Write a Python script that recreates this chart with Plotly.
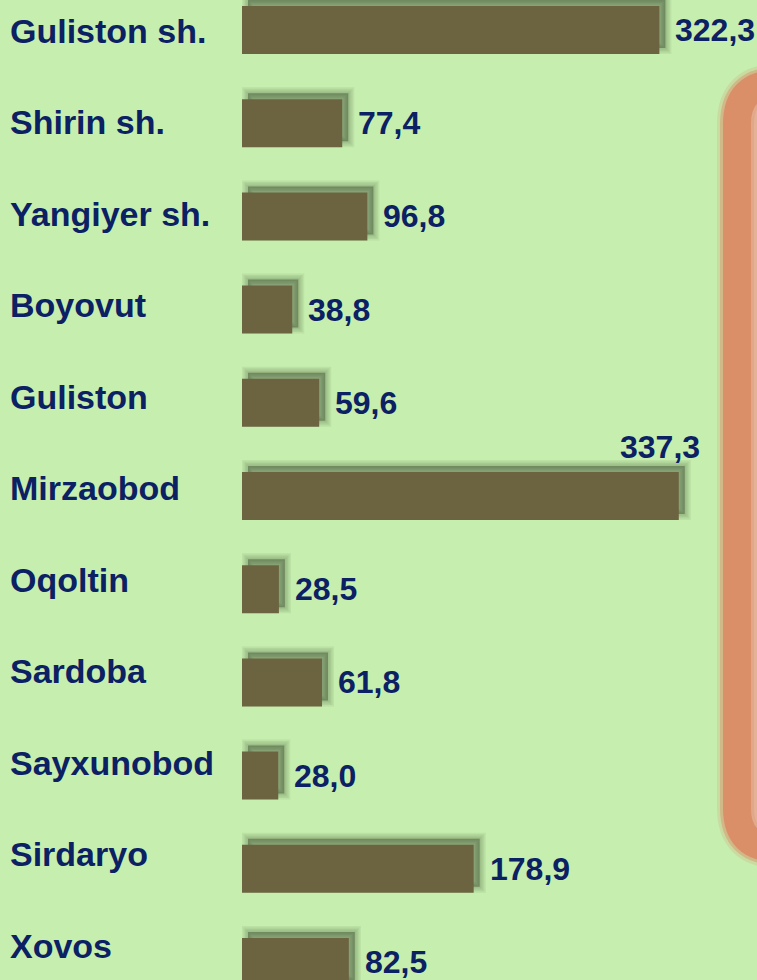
import plotly.graph_objects as go

categories = ["Guliston sh.", "Shirin sh.", "Yangiyer sh.", "Boyovut", "Guliston",
              "Mirzaobod", "Oqoltin", "Sardoba", "Sayxunobod", "Sirdaryo", "Xovos"]
values = [322.3, 77.4, 96.8, 38.8, 59.6, 337.3, 28.5, 61.8, 28.0, 178.9, 82.5]
value_labels = [f"{v:.1f}".replace(".", ",") for v in values]

W, H = 757, 980
BG = "#c6eeaf"
BAR = "#6c6440"
TXT = "#0b2163"
FONT = "Arial, Liberation Sans, sans-serif"

# axis geometry (pixel scale)
PX_PER_UNIT_X = 1.295
X0_PX = 242
x_range = [-X0_PX / PX_PER_UNIT_X, (W - X0_PX) / PX_PER_UNIT_X]
PX_PER_CAT = 93.2
FIRST_PX = 30
y_top = -FIRST_PX / PX_PER_CAT
y_range = [y_top + H / PX_PER_CAT, y_top]

# shadow shift
SH_DX, SH_DY = 6, 6
xs_range = [x_range[0] - SH_DX / PX_PER_UNIT_X, x_range[1] - SH_DX / PX_PER_UNIT_X]
ys_range = [y_range[0] + SH_DY / PX_PER_CAT, y_range[1] + SH_DY / PX_PER_CAT]

# label axis
LBL_SPACING = 91.5
LBL_FIRST = 30.8
l_top = -LBL_FIRST / LBL_SPACING
l_range = [l_top + H / LBL_SPACING, l_top]

BAR_W = 48 / PX_PER_CAT

fig = go.Figure()
# soft shadow (base axes), layered to fake a blur
for lw in [12, 9, 6, 3]:
    fig.add_trace(go.Bar(
        y=categories, x=values, orientation="h", width=BAR_W,
        marker=dict(color="rgba(40,50,25,0.10)", line=dict(color="rgba(40,50,25,0.07)", width=lw)),
        hoverinfo="skip", showlegend=False, xaxis="x", yaxis="y"))
# main bars
fig.add_trace(go.Bar(
    y=categories, x=values, orientation="h", width=BAR_W,
    marker=dict(color=BAR, line=dict(width=0)),
    showlegend=False, xaxis="x2", yaxis="y2"))

annotations = []
for i, (c, v, t) in enumerate(zip(categories, values, value_labels)):
    if v == max(values):
        annotations.append(dict(x=v, y=c, xref="x2", yref="y2", text=f"<b>{t}</b>",
                                showarrow=False, xanchor="right", yanchor="middle",
                                xshift=23, yshift=49,
                                font=dict(family=FONT, size=32, color=TXT)))
    else:
        annotations.append(dict(x=v, y=c, xref="x2", yref="y2", text=f"<b>{t}</b>",
                                showarrow=False, xanchor="left", yanchor="middle",
                                xshift=14,
                                font=dict(family=FONT, size=32, color=TXT)))
    annotations.append(dict(x=8 / W, y=i, xref="paper", yref="y3", text=f"<b>{c}</b>",
                            showarrow=False, xanchor="left", yanchor="middle",
                            font=dict(family=FONT, size=34, color=TXT)))


def rrect(x0, y0, x1, y1, r):
    px = lambda x: x / W
    py = lambda y: 1 - y / H
    return (f"M {px(x0 + r)} {py(y0)} L {px(x1 - r)} {py(y0)} "
            f"Q {px(x1)} {py(y0)} {px(x1)} {py(y0 + r)} L {px(x1)} {py(y1 - r)} "
            f"Q {px(x1)} {py(y1)} {px(x1 - r)} {py(y1)} L {px(x0 + r)} {py(y1)} "
            f"Q {px(x0)} {py(y1)} {px(x0)} {py(y1 - r)} L {px(x0)} {py(y0 + r)} "
            f"Q {px(x0)} {py(y0)} {px(x0 + r)} {py(y0)} Z")


ring = rrect(737, 84, 840, 848, 40)
shapes = [
    dict(type="path", xref="paper", yref="paper", path=ring,
         line=dict(color="rgba(217,143,104,0.20)", width=40), fillcolor="#ebcdbb", layer="below"),
    dict(type="path", xref="paper", yref="paper", path=ring,
         line=dict(color="rgba(217,143,104,0.45)", width=34), fillcolor="rgba(0,0,0,0)", layer="below"),
    dict(type="path", xref="paper", yref="paper", path=ring,
         line=dict(color="#da8f68", width=28), fillcolor="rgba(0,0,0,0)", layer="below"),
    dict(type="path", xref="paper", yref="paper", path=rrect(755, 102, 840, 830, 28),
         line=dict(color="rgba(224,165,135,0.55)", width=8), fillcolor="rgba(0,0,0,0)", layer="below"),
]

axis_common = dict(showgrid=False, zeroline=False, showticklabels=False, showline=False, ticks="")
fig.update_layout(
    width=W, height=H,
    margin=dict(l=0, r=0, t=0, b=0),
    paper_bgcolor=BG, plot_bgcolor="rgba(0,0,0,0)",
    barmode="overlay",
    xaxis=dict(range=xs_range, domain=[0, 1], **axis_common),
    yaxis=dict(range=ys_range, type="category", categoryorder="array",
               categoryarray=categories, domain=[0, 1], **axis_common),
    xaxis2=dict(range=x_range, overlaying="x", **axis_common),
    yaxis2=dict(range=y_range, type="category", categoryorder="array",
                categoryarray=categories, overlaying="y", **axis_common),
    yaxis3=dict(range=l_range, type="linear", overlaying="y", **axis_common),
    annotations=annotations,
    shapes=shapes,
)

fig.write_html(
    "out.html",
    config={"displayModeBar": False},
    post_script="document.body.style.margin='0';document.body.style.overflow='hidden';"
                "document.body.style.background='" + BG + "';",
)
